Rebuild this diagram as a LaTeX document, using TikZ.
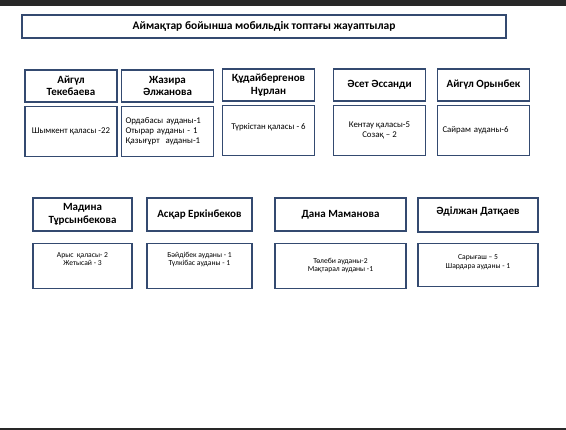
\documentclass[tikz,border=0pt]{standalone}
\usepackage{fontspec}
\setmainfont{Carlito}
\usetikzlibrary{positioning}
\definecolor{Kontur}{RGB}{52,74,112}
\definecolor{Tushy}{RGB}{40,40,40}

\begin{document}
\begin{tikzpicture}[
  x=1pt, y=-1pt,
  node distance=3pt,
  tagyn/.style={
    draw=Kontur, line width=1.1pt,
    fill=white, align=center,
    font=\bfseries\fontsize{11}{12.5}\selectfont,
    inner sep=1pt
  },
  audan/.style={
    draw=Kontur, line width=1.1pt,
    fill=white, align=center,
    font=\fontsize{8.8}{10}\selectfont,
    inner sep=3pt
  },
  qatar1/.style={minimum width=92pt},
  qatar2/.style={font=\fontsize{7.6}{8.2}\selectfont}
]
\useasboundingbox (0,0) rectangle (566,430);
\fill[Tushy] (0,0) rectangle (566,6);
\fill[Tushy] (0,428) rectangle (566,430);

% tasqy taqyryp
\node[tagyn, font=\bfseries\fontsize{11.5}{13}\selectfont, minimum width=484pt, minimum height=23pt] (taqyryp) at (264,26.5)
  {Аймақтар бойынша мобильдік топтағы жауаптылар};

% birinshi qatar
\node[tagyn, qatar1, minimum height=32pt] (aitek) at (71,86) {Айгүл\\Текебаева};
\node[audan, qatar1, minimum height=50pt, below=of aitek] (aitekA)
  {Шымкент қаласы -22};

\node[tagyn, qatar1, minimum height=32pt] (zhazira) at (167.5,86) {Жазира\\Әлжанова};
\node[audan, qatar1, minimum height=50pt, below=of zhazira, text width=84pt, align=left] (zhaziraA)
  {Ордабасы ауданы-1\\Отырар ауданы - 1\\Қазығұрт\ \ ауданы-1};

\node[tagyn, qatar1, minimum height=32pt] (nurlan) at (268.5,85) {Құдайбергенов\\Нұрлан};
\node[audan, qatar1, minimum height=50pt, below=of nurlan, text depth=8pt] (nurlanA)
  {Түркістан қаласы - 6};

\node[tagyn, qatar1, minimum height=32pt] (aset) at (379.5,85) {Әсет Әссанди};
\node[audan, qatar1, minimum height=50pt, below=of aset] (asetA)
  {Кентау қаласы-5\\Созақ – 2};

\node[tagyn, qatar1, minimum height=32pt] (orynbek) at (483.5,85) {Айгүл Орынбек};
\node[audan, qatar1, minimum height=50pt, below=of orynbek, text width=82pt, align=left] (orynbekA)
  {Сайрам ауданы-6};

% ekinshi qatar
\node[tagyn, minimum width=99pt, minimum height=33pt] (madina) at (82.5,214.5) {Мадина\\Тұрсынбекова};
\node[audan, qatar2, minimum width=99pt, minimum height=45pt, below=11pt of madina, text depth=13pt] (madinaA)
  {Арыс\ \ қаласы- 2\\Жетысай - 3};

\node[tagyn, minimum width=105pt, minimum height=33pt] (asqar) at (199.5,214.5) {Асқар Еркінбеков};
\node[audan, qatar2, minimum width=105pt, minimum height=45pt, below=11pt of asqar, text depth=13pt] (asqarA)
  {Бәйдібек ауданы - 1\\Түлкібас ауданы - 1};

\node[tagyn, minimum width=131pt, minimum height=33pt] (dana) at (340.5,214.5) {Дана Маманова};
\node[audan, qatar2, minimum width=131pt, minimum height=45pt, below=11pt of dana] (danaA)
  {Төлеби ауданы-2\\Мақтарал ауданы -1};

\node[tagyn, minimum width=120pt, minimum height=34pt, text depth=9pt] (adilzhan) at (478,215) {Әділжан Датқаев};
\node[audan, qatar2, minimum width=120pt, minimum height=43pt, below=10pt of adilzhan, text depth=6pt] (adilzhanA)
  {Сарығаш – 5\\Шардара ауданы - 1};

\end{tikzpicture}
\end{document}
